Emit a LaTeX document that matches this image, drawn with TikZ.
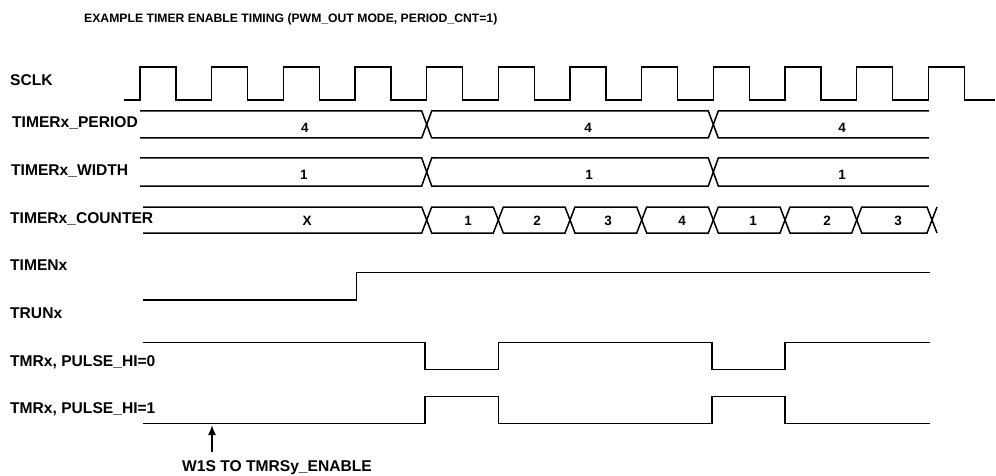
\documentclass[tikz,border=0pt]{standalone}
\usepackage{fontspec}
\setmainfont{Liberation Sans}
\usetikzlibrary{arrows.meta}
\begin{document}
\begin{tikzpicture}[x=1pt,y=-1pt,
  wave/.style={line width=1.5pt, line join=miter},
  lbl/.style={anchor=west, inner sep=0pt, font=\fontsize{15.6}{17}\bfseries, text height=0.716em, text depth=0pt},
  val/.style={anchor=center, inner sep=0pt, font=\fontsize{13.5}{15}\bfseries, text height=0.716em, text depth=0pt},
  ttl/.style={anchor=west, inner sep=0pt, font=\fontsize{12.2}{14}\bfseries, text height=0.716em, text depth=0pt},
  note/.style={anchor=center, inner sep=0pt, font=\fontsize{15.6}{17}\bfseries, text height=0.716em, text depth=0pt}]
\useasboundingbox (0,0) rectangle (996,476);

% title
\node[ttl] (title) at (84,19) {EXAMPLE TIMER ENABLE TIMING (PWM\_OUT MODE, PERIOD\_CNT=1)};

% labels
\node[lbl] (lsclk) at (10,82) {SCLK};
\node[lbl] (lper) at (12,124) {TIMERx\_PERIOD};
\node[lbl] (lwid) at (11,172) {TIMERx\_WIDTH};
\node[lbl] (lcnt) at (10,220) {TIMERx\_COUNTER};
\node[lbl] (lten) at (10,267) {TIMENx};
\node[lbl] (ltrun) at (10,315) {TRUNx};
\node[lbl] (lp0) at (10,363) {TMRx, PULSE\_HI=0};
\node[lbl] (lp1) at (10,410) {TMRx, PULSE\_HI=1};

% SCLK
\def\per{71.667}
\draw[wave] (124,100)
  \foreach \k in {0,...,11} {
    -- ({140+\k*\per},100) -- ({140+\k*\per},67) -- ({176+\k*\per},67) -- ({176+\k*\per},100)
  } -- (995,100);

% bus: PERIOD
\def\yt{111}\def\yb{138}
\draw[wave] (140,\yt) -- (421.7,\yt) -- (431.7,\yb) -- (708.3,\yb) -- (718.3,\yt) -- (929,\yt);
\draw[wave] (140,\yb) -- (421.7,\yb) -- (431.7,\yt) -- (708.3,\yt) -- (718.3,\yb) -- (929,\yb);
\node[val] (v1) at (305,129) {4};
\node[val] (v2) at (588,129) {4};
\node[val] (v3) at (842,129) {4};

% bus: WIDTH
\def\yt{158}\def\yb{186}
\draw[wave] (140,\yt) -- (421.7,\yt) -- (431.7,\yb) -- (708.3,\yb) -- (718.3,\yt) -- (929,\yt);
\draw[wave] (140,\yb) -- (421.7,\yb) -- (431.7,\yt) -- (708.3,\yt) -- (718.3,\yb) -- (929,\yb);
\node[val] (w1) at (304,176) {1};
\node[val] (w2) at (589,176) {1};
\node[val] (w3) at (842,176) {1};

% bus: COUNTER
\def\yt{207}\def\yb{233}
\draw[wave] (143,\yt) -- (421.7,\yt) -- (431.7,\yb) -- (493.3,\yb) -- (503.3,\yt) -- (565,\yt) -- (575,\yb)
  -- (636.7,\yb) -- (646.7,\yt) -- (708.3,\yt) -- (718.3,\yb) -- (780,\yb) -- (790,\yt)
  -- (851.7,\yt) -- (861.7,\yb) -- (927,\yb) -- (937,\yt);
\draw[wave] (143,\yb) -- (421.7,\yb) -- (431.7,\yt) -- (493.3,\yt) -- (503.3,\yb) -- (565,\yb) -- (575,\yt)
  -- (636.7,\yt) -- (646.7,\yb) -- (708.3,\yb) -- (718.3,\yt) -- (780,\yt) -- (790,\yb)
  -- (851.7,\yb) -- (861.7,\yt) -- (927,\yt) -- (937,\yb);
\node[val] (c0) at (307,222) {X};
\node[val] (c1) at (468,222) {1};
\node[val] (c2) at (537,222) {2};
\node[val] (c3) at (608,222) {3};
\node[val] (c4) at (682,222) {4};
\node[val] (c5) at (753,222) {1};
\node[val] (c6) at (827,222) {2};
\node[val] (c7) at (898,222) {3};

% TIMENx
\draw[wave] (143,300) -- (356.7,300) -- (356.7,272.3) -- (930,272.3);

% TMRx PULSE_HI=0
\draw[wave] (143,342.7) -- (425,342.7) -- (425,369.3) -- (498.3,369.3) -- (498.3,342.7)
  -- (712,342.7) -- (712,369.3) -- (785,369.3) -- (785,342.7) -- (930,342.7);

% TMRx PULSE_HI=1
\draw[wave] (143,423.3) -- (425,423.3) -- (425,396.7) -- (498.3,396.7) -- (498.3,423.3)
  -- (712,423.3) -- (712,396.7) -- (785,396.7) -- (785,423.3) -- (930,423.3);

% annotation
\node[note] (w1s) at (277,468) {W1S TO TMRSy\_ENABLE};
\coordinate (atail) at (212,452);
\coordinate (atip) at (212,425);
\draw[line width=1.6pt, -{Latex[length=10pt,width=8pt]}] (atail) -- (atip);
\end{tikzpicture}
\end{document}
